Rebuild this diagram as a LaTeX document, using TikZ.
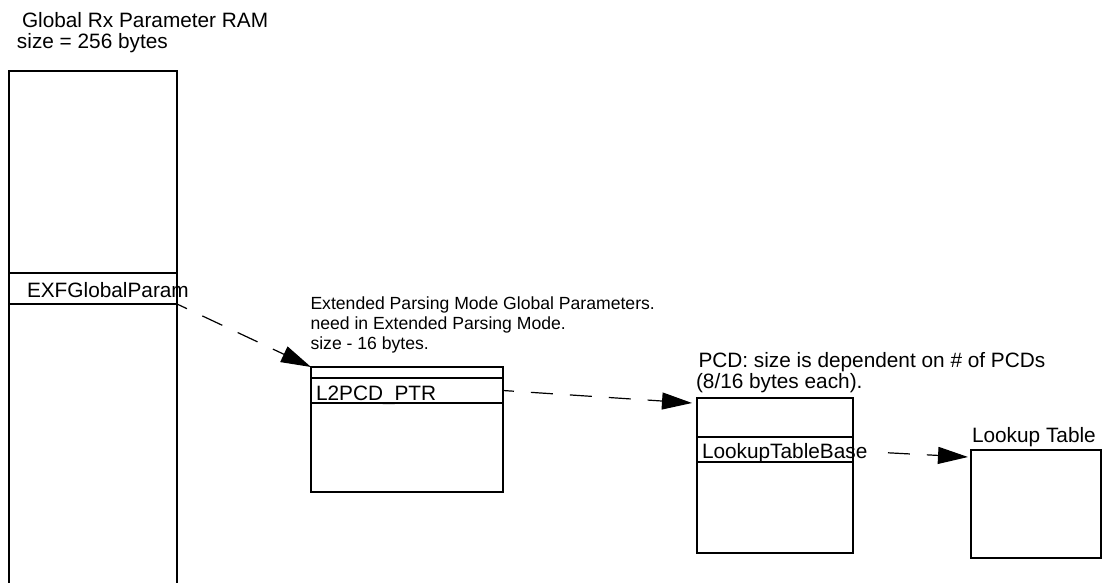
\documentclass[tikz,border=0pt]{standalone}
\usepackage{fontspec}
\setmainfont{Liberation Sans}
\usetikzlibrary{arrows.meta}
\begin{document}
\begin{tikzpicture}[x=0.5pt,y=-0.5pt,
  box/.style={draw, line width=1pt, rectangle, inner sep=0pt, outer sep=0pt, anchor=north west},
  lbl/.style={anchor=base west, inner sep=0pt, outer sep=0pt, font=\fontsize{10.4}{12}\selectfont},
  note/.style={anchor=base west, inner sep=0pt, outer sep=0pt, font=\fontsize{8.8}{10}\selectfont},
  ptr/.style={line width=0.6pt, dash pattern=on 11pt off 8.5pt, -{Triangle[length=15pt,width=8.5pt]}},
]
\useasboundingbox (0,0) rectangle (1102,583);
\fill[white] (0,0) rectangle (1102,583);

% Global Rx Parameter RAM
\node[lbl] (ramt1) at (22,28) {Global Rx Parameter RAM};
\node[lbl] (ramt2) at (17,49) {size = 256 bytes};
\node[box, minimum width=84pt, minimum height=280pt] (ram) at (9,71) {};
\node[box, minimum width=84pt, minimum height=15.5pt] (exf) at (9,273) {};
\node[lbl] (exft) at (27,297) {EXFGlobalParam};

% Extended parsing mode global parameters
\node[note] (ext1) at (310.5,309) {Extended Parsing Mode Global Parameters.};
\node[note] (ext2) at (310.5,329) {need in Extended Parsing Mode.};
\node[note] (ext3) at (310.5,349) {size - 16 bytes.};
\node[box, minimum width=96pt, minimum height=62.5pt] (mid) at (311,367) {};
\node[box, minimum width=96pt, minimum height=12.5pt] (l2) at (311,378) {};
\node[lbl] (l2t) at (316,400) {L2PCD\_PTR};

% PCD
\node[lbl] (pcdt1) at (698.5,367.5) {PCD: size is dependent on \# of PCDs};
\node[lbl] (pcdt2) at (696,388) {(8/16 bytes each).};
\node[box, minimum width=78pt, minimum height=77.5pt] (pcd) at (697,398) {};
\node[box, minimum width=78pt, minimum height=12.5pt] (lutb) at (697,437) {};
\node[lbl] (lutbt) at (702,458) {LookupTableBase};

% Lookup table
\node[lbl] (lkt) at (972,442) {Lookup Table};
\node[box, minimum width=65pt, minimum height=54pt] (lk) at (971,450) {};

% connectors
\coordinate (a2end) at (692,403);
\coordinate (a3start) at (873,452);
\coordinate (a3end) at (968,457);
\draw[ptr, dash phase=5.5pt] (exf.south east) -- (mid.north west);
\draw[ptr, dash phase=5.5pt] (l2.east) -- (a2end);
\draw[ptr, dash phase=12pt] (a3start) -- (a3end);
\end{tikzpicture}
\end{document}
